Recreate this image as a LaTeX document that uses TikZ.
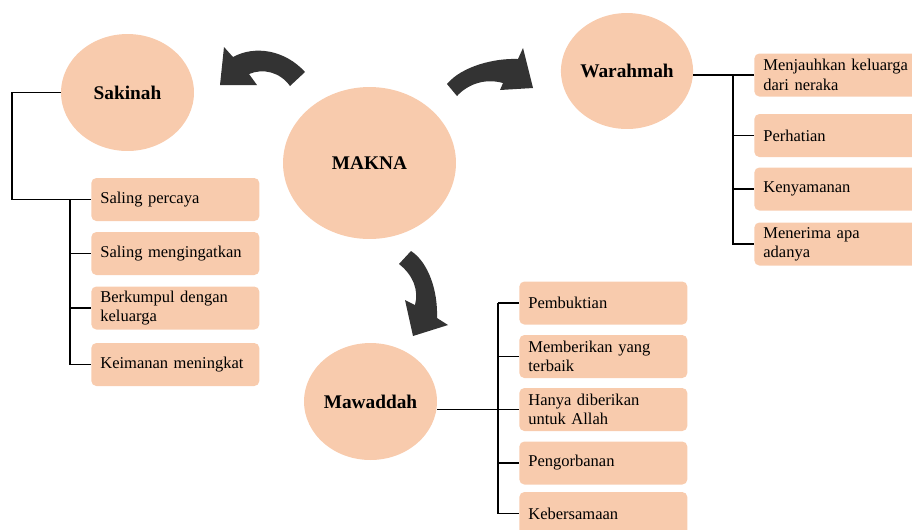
\documentclass[tikz,border=0pt]{standalone}
\usepackage{fontspec}
\setmainfont{Liberation Serif}
\usetikzlibrary{shapes.geometric}
\definecolor{peach}{HTML}{F8CBAD}
\definecolor{arrowgray}{HTML}{333333}
\tikzset{
  topic/.style={
    ellipse,
    fill=peach,
    inner sep=0pt,
    font=\fontsize{11}{13}\selectfont\bfseries
  },
  leaf/.style={
    anchor=west,
    fill=peach,
    rounded corners=0.1cm,
    text width=3cm,
    align=left,
    inner xsep=0.18cm,
    inner ysep=0pt,
    minimum height=0.86cm,
    font=\fontsize{9.4}{11}\selectfont
  },
  connector/.style={line width=0.7pt},
  curvearrow/.style={fill=arrowgray}
}

\begin{document}
\begin{tikzpicture}[x=0.02cm,y=-0.02cm]
  \useasboundingbox (0,0) rectangle (912,529);

  \node[topic, minimum width=3.46cm, minimum height=3.04cm] (makna) at (369.5,163) {MAKNA};
  \node[topic, minimum width=2.66cm, minimum height=2.34cm] (sakinah) at (127.5,92.5) {Sakinah};
  \node[topic, minimum width=2.64cm, minimum height=2.32cm] (warahmah) at (627,71) {Warahmah};
  \node[topic, minimum width=2.66cm, minimum height=2.34cm] (mawaddah) at (370.5,401.5) {Mawaddah};

  \node[leaf] (sak1) at (91,199.5) {Saling percaya};
  \node[leaf] (sak2) at (91,253.5) {Saling mengingatkan};
  \node[leaf] (sak3) at (91,308) {Berkumpul dengan\\keluarga};
  \node[leaf] (sak4) at (91,364.5) {Keimanan meningkat};

  \node[leaf] (war1) at (754,75) {Menjauhkan keluarga\\dari neraka};
  \node[leaf] (war2) at (754,135.5) {Perhatian};
  \node[leaf] (war3) at (754,189) {Kenyamanan};
  \node[leaf] (war4) at (754,244) {Menerima apa\\adanya};

  \node[leaf] (maw1) at (519,303) {Pembuktian};
  \node[leaf] (maw2) at (519,356.5) {Memberikan yang\\terbaik};
  \node[leaf] (maw3) at (519,409.5) {Hanya diberikan\\untuk Allah};
  \node[leaf] (maw4) at (519,463) {Pengorbanan};
  \node[leaf] (maw5) at (519,513.5) {Kebersamaan};

  \coordinate (sakbend) at (12,92.5);
  \coordinate (sakfork) at (70,199.5);
  \coordinate (warfork) at (733,75);
  \coordinate (mawfork) at (498,303);

  \draw[connector] (sakinah.west) -- (sakbend) |- (sak1.west);
  \foreach \i in {2,3,4}
    \draw[connector] (sakfork) |- (sak\i.west);

  \draw[connector] (warahmah.east |- war1.west) -- (war1.west);
  \foreach \i in {2,3,4}
    \draw[connector] (warfork) |- (war\i.west);

  \draw[connector] (mawaddah.east |- maw3.west) -- (maw3.west);
  \draw[connector] (mawfork) -- (maw1.west);
  \foreach \i in {2,3,4,5}
    \draw[connector] (mawfork) |- (maw\i.west);

  \fill[curvearrow] (305,72) .. controls (285,50) and (255,45) .. (233,57)
    -- (224,47) -- (220,85) -- (257,85) -- (249,74)
    .. controls (263,68) and (280,72) .. (290,86) -- cycle;
  \fill[curvearrow] (447,84) .. controls (462,66) and (495,58) .. (518,59)
    -- (523,48) -- (533,88) -- (500,90) -- (503,83)
    .. controls (485,78) and (468,84) .. (457,96) -- cycle;
  \fill[curvearrow] (399,264) -- (411,251) .. controls (428,262) and (438,290) .. (437,318)
    -- (448,325) -- (413,336) -- (405,300) -- (415,305)
    .. controls (419,290) and (413,275) .. (399,264) -- cycle;
\end{tikzpicture}
\end{document}
